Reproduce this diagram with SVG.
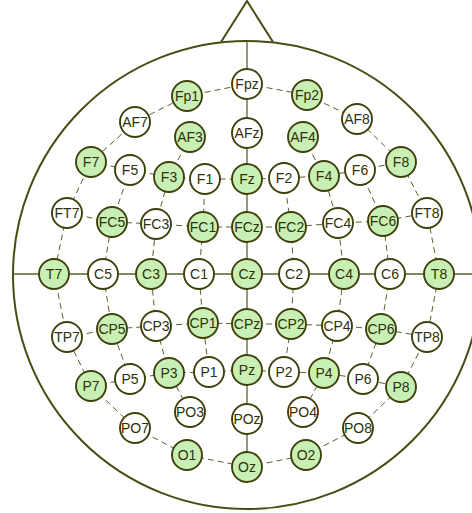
<svg xmlns="http://www.w3.org/2000/svg" width="472" height="513" viewBox="0 0 472 513">
<style>
.head{fill:none;stroke:#4b4b14;stroke-width:2}
.solid{stroke:#5e5e30;stroke-width:1.3;fill:none}
.dash{stroke:#5e5e30;stroke-width:1;fill:none;stroke-dasharray:6 4}
.g circle{fill:#c8f0b4;stroke:#40400c;stroke-width:1.9}
.w circle{fill:#ffffff;stroke:#40400c;stroke-width:1.9}
text{font-family:"Liberation Sans",Arial,sans-serif;font-size:14px;fill:#30300a;text-anchor:middle;dominant-baseline:central}
</style>
<rect width="472" height="513" fill="#ffffff"/>
<g id="head">
<circle class="head" cx="247" cy="275" r="234"/>
<polyline class="head" points="221,42 247,1 273,42"/>
</g>
<g id="connectors">
<line class="solid" x1="247" y1="41" x2="247" y2="467"/>
<line class="solid" x1="13" y1="274" x2="472" y2="274"/>
<polyline class="dash" points="247,84 307,95 357,119 401,162 427,213 439,274 427,337 401,387 358,428 306,455 247,467 187,455 135,428 91,386 67,337 54,274 67,213 91,162 135,122 187,96 247,84"/>
<polyline class="dash" points="130,170 112,222 103,274 112,329 130,379"/>
<polyline class="dash" points="190,137 169,177 156,224 151,274 156,326 169,373 190,412"/>
<polyline class="dash" points="205,179 203,227 199,274 203,323 209,372"/>
<polyline class="dash" points="284,178 291,227 294,274 291,324 284,372"/>
<polyline class="dash" points="303,137 324,176 338,223 344,274 337,326 324,373 303,412"/>
<polyline class="dash" points="360,170 383,221 390,274 381,329 363,379"/>
<polyline class="dash" points="91,162 130,170 169,177 205,179 247,179 284,178 324,176 360,170 401,162"/>
<polyline class="dash" points="67,213 112,222 156,224 203,227 247,227 291,227 338,223 383,221 427,213"/>
<polyline class="dash" points="67,337 112,329 156,326 203,323 247,324 291,324 337,326 381,329 427,337"/>
<polyline class="dash" points="91,386 130,379 169,373 209,372 247,370 284,372 324,373 363,379 401,387"/>
</g>
<g id="Fp1" class="g"><circle cx="187" cy="96" r="15"/><text x="187" y="96">Fp1</text></g>
<g id="Fpz" class="w"><circle cx="247" cy="84" r="15"/><text x="247" y="84">Fpz</text></g>
<g id="Fp2" class="g"><circle cx="307" cy="95" r="15"/><text x="307" y="95">Fp2</text></g>
<g id="AF7" class="w"><circle cx="135" cy="122" r="15"/><text x="135" y="122">AF7</text></g>
<g id="AF3" class="g"><circle cx="190" cy="137" r="15"/><text x="190" y="137">AF3</text></g>
<g id="AFz" class="w"><circle cx="247" cy="133" r="15"/><text x="247" y="133">AFz</text></g>
<g id="AF4" class="g"><circle cx="303" cy="137" r="15"/><text x="303" y="137">AF4</text></g>
<g id="AF8" class="w"><circle cx="357" cy="119" r="15"/><text x="357" y="119">AF8</text></g>
<g id="F7" class="g"><circle cx="91" cy="162" r="15"/><text x="91" y="162">F7</text></g>
<g id="F5" class="w"><circle cx="130" cy="170" r="15"/><text x="130" y="170">F5</text></g>
<g id="F3" class="g"><circle cx="169" cy="177" r="15"/><text x="169" y="177">F3</text></g>
<g id="F1" class="w"><circle cx="205" cy="179" r="15"/><text x="205" y="179">F1</text></g>
<g id="Fz" class="g"><circle cx="247" cy="179" r="15"/><text x="247" y="179">Fz</text></g>
<g id="F2" class="w"><circle cx="284" cy="178" r="15"/><text x="284" y="178">F2</text></g>
<g id="F4" class="g"><circle cx="324" cy="176" r="15"/><text x="324" y="176">F4</text></g>
<g id="F6" class="w"><circle cx="360" cy="170" r="15"/><text x="360" y="170">F6</text></g>
<g id="F8" class="g"><circle cx="401" cy="162" r="15"/><text x="401" y="162">F8</text></g>
<g id="FT7" class="w"><circle cx="67" cy="213" r="15"/><text x="67" y="213">FT7</text></g>
<g id="FC5" class="g"><circle cx="112" cy="222" r="15"/><text x="112" y="222">FC5</text></g>
<g id="FC3" class="w"><circle cx="156" cy="224" r="15"/><text x="156" y="224">FC3</text></g>
<g id="FC1" class="g"><circle cx="203" cy="227" r="15"/><text x="203" y="227">FC1</text></g>
<g id="FCz" class="g"><circle cx="247" cy="227" r="15"/><text x="247" y="227">FCz</text></g>
<g id="FC2" class="g"><circle cx="291" cy="227" r="15"/><text x="291" y="227">FC2</text></g>
<g id="FC4" class="w"><circle cx="338" cy="223" r="15"/><text x="338" y="223">FC4</text></g>
<g id="FC6" class="g"><circle cx="383" cy="221" r="15"/><text x="383" y="221">FC6</text></g>
<g id="FT8" class="w"><circle cx="427" cy="213" r="15"/><text x="427" y="213">FT8</text></g>
<g id="T7" class="g"><circle cx="54" cy="274" r="15"/><text x="54" y="274">T7</text></g>
<g id="C5" class="w"><circle cx="103" cy="274" r="15"/><text x="103" y="274">C5</text></g>
<g id="C3" class="g"><circle cx="151" cy="274" r="15"/><text x="151" y="274">C3</text></g>
<g id="C1" class="w"><circle cx="199" cy="274" r="15"/><text x="199" y="274">C1</text></g>
<g id="Cz" class="g"><circle cx="247" cy="274" r="15"/><text x="247" y="274">Cz</text></g>
<g id="C2" class="w"><circle cx="294" cy="274" r="15"/><text x="294" y="274">C2</text></g>
<g id="C4" class="g"><circle cx="344" cy="274" r="15"/><text x="344" y="274">C4</text></g>
<g id="C6" class="w"><circle cx="390" cy="274" r="15"/><text x="390" y="274">C6</text></g>
<g id="T8" class="g"><circle cx="439" cy="274" r="15"/><text x="439" y="274">T8</text></g>
<g id="TP7" class="w"><circle cx="67" cy="337" r="15"/><text x="67" y="337">TP7</text></g>
<g id="CP5" class="g"><circle cx="112" cy="329" r="15"/><text x="112" y="329">CP5</text></g>
<g id="CP3" class="w"><circle cx="156" cy="326" r="15"/><text x="156" y="326">CP3</text></g>
<g id="CP1" class="g"><circle cx="203" cy="323" r="15"/><text x="203" y="323">CP1</text></g>
<g id="CPz" class="g"><circle cx="247" cy="324" r="15"/><text x="247" y="324">CPz</text></g>
<g id="CP2" class="g"><circle cx="291" cy="324" r="15"/><text x="291" y="324">CP2</text></g>
<g id="CP4" class="w"><circle cx="337" cy="326" r="15"/><text x="337" y="326">CP4</text></g>
<g id="CP6" class="g"><circle cx="381" cy="329" r="15"/><text x="381" y="329">CP6</text></g>
<g id="TP8" class="w"><circle cx="427" cy="337" r="15"/><text x="427" y="337">TP8</text></g>
<g id="P7" class="g"><circle cx="91" cy="386" r="15"/><text x="91" y="386">P7</text></g>
<g id="P5" class="w"><circle cx="130" cy="379" r="15"/><text x="130" y="379">P5</text></g>
<g id="P3" class="g"><circle cx="169" cy="373" r="15"/><text x="169" y="373">P3</text></g>
<g id="P1" class="w"><circle cx="209" cy="372" r="15"/><text x="209" y="372">P1</text></g>
<g id="Pz" class="g"><circle cx="247" cy="370" r="15"/><text x="247" y="370">Pz</text></g>
<g id="P2" class="w"><circle cx="284" cy="372" r="15"/><text x="284" y="372">P2</text></g>
<g id="P4" class="g"><circle cx="324" cy="373" r="15"/><text x="324" y="373">P4</text></g>
<g id="P6" class="w"><circle cx="363" cy="379" r="15"/><text x="363" y="379">P6</text></g>
<g id="P8" class="g"><circle cx="401" cy="387" r="15"/><text x="401" y="387">P8</text></g>
<g id="PO7" class="w"><circle cx="135" cy="428" r="15"/><text x="135" y="428">PO7</text></g>
<g id="PO3" class="w"><circle cx="190" cy="412" r="15"/><text x="190" y="412">PO3</text></g>
<g id="POz" class="w"><circle cx="247" cy="419" r="15"/><text x="247" y="419">POz</text></g>
<g id="PO4" class="w"><circle cx="303" cy="412" r="15"/><text x="303" y="412">PO4</text></g>
<g id="PO8" class="w"><circle cx="358" cy="428" r="15"/><text x="358" y="428">PO8</text></g>
<g id="O1" class="g"><circle cx="187" cy="455" r="15"/><text x="187" y="455">O1</text></g>
<g id="Oz" class="g"><circle cx="247" cy="467" r="15"/><text x="247" y="467">Oz</text></g>
<g id="O2" class="g"><circle cx="306" cy="455" r="15"/><text x="306" y="455">O2</text></g>
</svg>
